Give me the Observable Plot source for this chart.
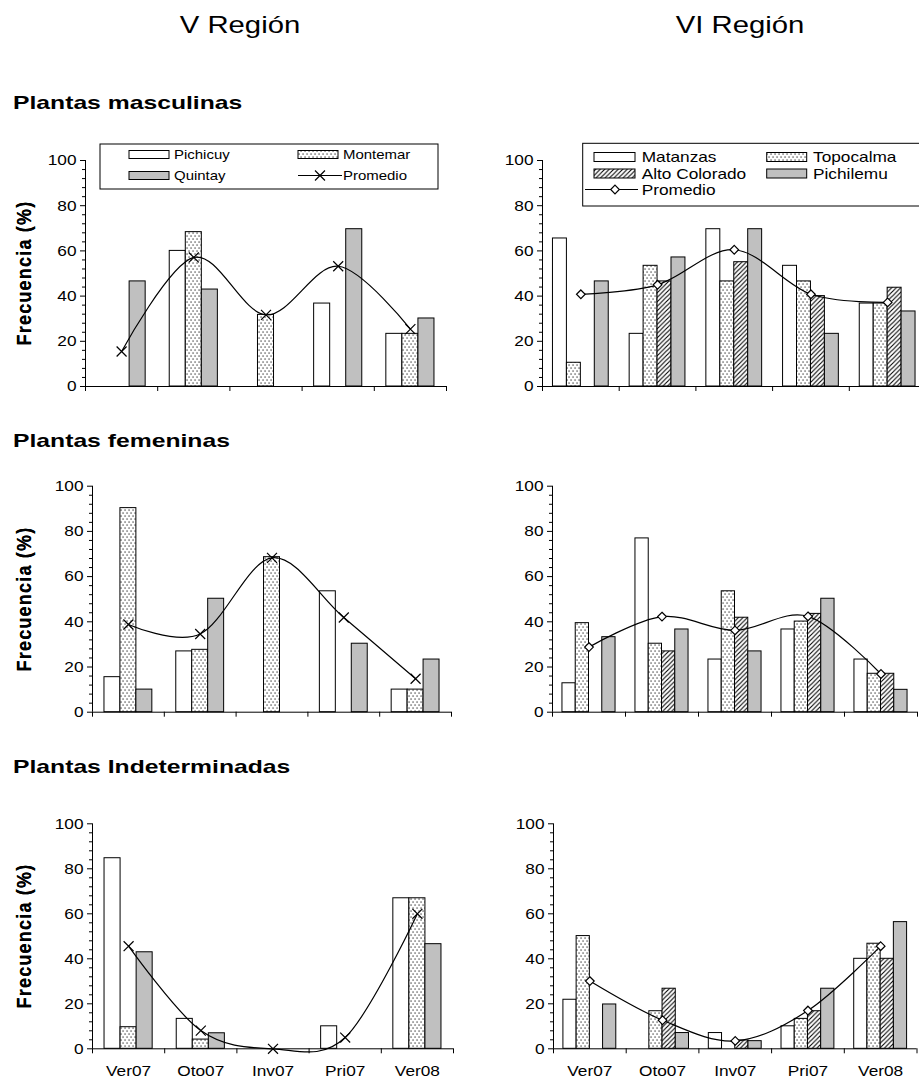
<!DOCTYPE html>
<html><head><meta charset="utf-8">
<script src="https://cdn.jsdelivr.net/npm/d3@7"></script>
<script src="https://cdn.jsdelivr.net/npm/@observablehq/plot@0.6"></script>
<style>
html,body{margin:0;padding:0;width:919px;height:1082px;overflow:hidden;background:#fff;font-family:"Liberation Sans",Arial,sans-serif;color:#000;}
#page{position:relative;width:919px;height:1082px;overflow:hidden;}
.abs{position:absolute;white-space:nowrap;line-height:1;}
.title{font-size:24px;transform:translate(-50%,-50%) scaleX(1.22);}
.rowt{font-size:19px;font-weight:bold;transform-origin:left center;transform:translateY(-50%) scaleX(1.3);}
.ylab{font-size:18px;font-weight:bold;letter-spacing:1.2px;transform:translate(-50%,-50%) rotate(-90deg) scaleY(1.15);}
.panel{position:absolute;}
</style></head><body>
<svg width="0" height="0" style="position:absolute">
  <defs>
    <pattern id="dots" patternUnits="userSpaceOnUse" width="4" height="6">
      <rect width="4" height="6" fill="white"/>
      <rect x="0.5" y="0.5" width="1.1" height="1.1" fill="black"/>
      <rect x="2.5" y="3.5" width="1.1" height="1.1" fill="black"/>
    </pattern>
    <pattern id="hatch" patternUnits="userSpaceOnUse" width="4.5" height="4.5">
      <rect width="4.5" height="4.5" fill="white"/>
      <path d="M0,4.5 L4.5,0 M-1,1 L1,-1 M3.5,5.5 L5.5,3.5" stroke="black" stroke-width="1.1"/>
    </pattern>
  </defs>
</svg>
<div id="page"></div>
<script>
// ---------- data ----------
const seasons = ["Ver07", "Oto07", "Inv07", "Pri07", "Ver08"];
const sitesV = ["Pichicuy", "Montemar", "Quintay"];
const sitesVI = ["Matanzas", "Topocalma", "Alto Colorado", "Pichilemu"];
const yTicks = [0, 20, 40, 60, 80, 100];
const regionTitles = ["V Región", "VI Región"];
const rowTitles = ["Plantas masculinas", "Plantas femeninas", "Plantas Indeterminadas"];
const yLabel = "Frecuencia (%)";
const promedioLabel = "Promedio";

// Plantas masculinas – V Región
const mascV_Pichicuy = [0, 60, null, 36.7, 23.3];
const mascV_Montemar = [0, 68.3, 31.7, null, 23.3];
const mascV_Quintay = [46.5, 42.9, null, 69.6, 30.1];
const mascV_Promedio = [15.5, 57.1, 31.7, 53.2, 25.4];
// Plantas masculinas – VI Región
const mascVI_Matanzas = [65.5, 23.3, 69.6, 53.4, 36.7];
const mascVI_Topocalma = [10.5, 53.4, 46.5, 46.5, 36.7];
const mascVI_AltoColorado = [null, 46.5, 55, 40, 43.7];
const mascVI_Pichilemu = [46.5, 57.1, 69.6, 23.3, 33.2];
const mascVI_Promedio = [40.8, 45, 60.5, 40.8, 37.2];
// Plantas femeninas – V Región
const femV_Pichicuy = [15.5, 26.9, null, 53.5, 10];
const femV_Montemar = [90.3, 27.6, 68.6, null, 10];
const femV_Quintay = [10, 50.2, null, 30.3, 23.3];
const femV_Promedio = [38.8, 34.6, 68.3, 41.9, 14.8];
// Plantas femeninas – VI Región
const femVI_Matanzas = [12.8, 76.9, 23.3, 36.6, 23.3];
const femVI_Topocalma = [39.4, 30.3, 53.5, 40.1, 17];
const femVI_AltoColorado = [null, 26.9, 41.8, 43.5, 17];
const femVI_Pichilemu = [33.2, 36.6, 26.9, 50.2, 9.9];
const femVI_Promedio = [28.8, 42.3, 36.2, 42.4, 16.9];
// Plantas indeterminadas – V Región
const indV_Pichicuy = [84.7, 13.3, 0, 10, 66.9];
const indV_Montemar = [9.6, 4.1, 0, null, 66.9];
const indV_Quintay = [42.9, 6.9, 0, 0, 46.5];
const indV_Promedio = [45.6, 8.1, 0, 5, 60];
// Plantas indeterminadas – VI Región
const indVI_Matanzas = [21.8, 0, 7, 10, 40];
const indVI_Topocalma = [50.1, 16.7, 0, 13.3, 46.7];
const indVI_AltoColorado = [null, 26.7, 3.7, 16.7, 40];
const indVI_Pichilemu = [19.7, 7, 3.4, 26.7, 56.3];
const indVI_Promedio = [30.1, 12.7, 3.5, 17, 45.6];

// ---------- styles ----------
const siteFill = {
  "Pichicuy": "white", "Montemar": "url(#dots)", "Quintay": "#c0c0c0",
  "Matanzas": "white", "Topocalma": "url(#dots)", "Alto Colorado": "url(#hatch)", "Pichilemu": "#c0c0c0"
};
const FONT = "'Liberation Sans', Arial, sans-serif";
const TEXT_STRETCH = 1.15;

const page = document.getElementById("page");
function addDiv(cls, text, left, top) {
  const d = document.createElement("div");
  d.className = "abs " + cls;
  d.textContent = text;
  d.style.left = left + "px";
  d.style.top = top + "px";
  page.appendChild(d);
  return d;
}
addDiv("title", regionTitles[0], 240, 25);
addDiv("title", regionTitles[1], 740, 25);
addDiv("rowt", rowTitles[0], 13, 102);
addDiv("rowt", rowTitles[1], 13, 440);
addDiv("rowt", rowTitles[2], 13, 766);

// ---------- panels ----------
const panels = [
  {sites: sitesV, series: [mascV_Pichicuy, mascV_Montemar, mascV_Quintay], prom: mascV_Promedio, symbol: "times",
   box: {left: 0, top: 130, width: 460, height: 280}, frame: {x0: 85, x1: 446, y100: 160, y0: 386}, labels: false},
  {sites: sitesVI, series: [mascVI_Matanzas, mascVI_Topocalma, mascVI_AltoColorado, mascVI_Pichilemu], prom: mascVI_Promedio, symbol: "diamond2",
   box: {left: 460, top: 130, width: 480, height: 280}, frame: {x0: 542, x1: 925.5, y100: 160, y0: 386}, labels: false},
  {sites: sitesV, series: [femV_Pichicuy, femV_Montemar, femV_Quintay], prom: femV_Promedio, symbol: "times",
   box: {left: 0, top: 455, width: 460, height: 280}, frame: {x0: 92, x1: 451, y100: 485.7, y0: 711.7}, labels: false},
  {sites: sitesVI, series: [femVI_Matanzas, femVI_Topocalma, femVI_AltoColorado, femVI_Pichilemu], prom: femVI_Promedio, symbol: "diamond2",
   box: {left: 460, top: 455, width: 480, height: 280}, frame: {x0: 552, x1: 917, y100: 485.7, y0: 711.7}, labels: false},
  {sites: sitesV, series: [indV_Pichicuy, indV_Montemar, indV_Quintay], prom: indV_Promedio, symbol: "times",
   box: {left: 0, top: 793, width: 460, height: 289}, frame: {x0: 92, x1: 453, y100: 823.3, y0: 1048.3}, labels: true},
  {sites: sitesVI, series: [indVI_Matanzas, indVI_Topocalma, indVI_AltoColorado, indVI_Pichilemu], prom: indVI_Promedio, symbol: "diamond2",
   box: {left: 460, top: 793, width: 480, height: 289}, frame: {x0: 553, x1: 916.5, y100: 823.3, y0: 1048.3}, labels: true}
];

const minorTicks = d3.range(0, 101, 4).filter(v => v % 20 !== 0);

function makePanel(p) {
  const n = p.sites.length;
  const w = 1 / (n + 1.5);   // Excel gap width 150 %
  const pad = 0.75 * w;
  const markList = [];
  p.sites.forEach((site, i) => {
    const rows = [];
    p.series[i].forEach((v, s) => {
      if (v != null) rows.push({season: seasons[s], v, x1: s + pad + i * w, x2: s + pad + (i + 1) * w});
    });
    markList.push(Plot.rect(rows, {x1: "x1", x2: "x2", y1: 0, y2: "v", fill: siteFill[site], stroke: "black", strokeWidth: 1}));
  });
  const prom = p.prom.map((v, s) => ({x: s + 0.5, v}));
  const symbolR = p.symbol === "times" ? 4.6 : 3.9;
  const b = p.box, f = p.frame;
  const marks = [
    ...markList,
    Plot.line(prom, {x: "x", y: "v", curve: "cardinal", stroke: "black", strokeWidth: 1.2}),
    Plot.dot(prom, {x: "x", y: "v", symbol: p.symbol, r: symbolR, stroke: "black", strokeWidth: 1.2, fill: p.symbol === "times" ? "none" : "white"}),
    Plot.ruleX([0], {y1: 0, y2: 100, stroke: "black"}),
    Plot.ruleY([0], {x1: 0, x2: 5, stroke: "black"}),
    Plot.axisY({ticks: yTicks, tickSize: 5, tickPadding: 4, fontSize: 15, label: null, stroke: "black"}),
    Plot.axisY({ticks: minorTicks, tickSize: 3, tickFormat: () => "", label: null, stroke: "black"}),
    Plot.axisX({ticks: [0, 1, 2, 3, 4, 5], tickSize: 5, tickFormat: () => "", label: null, stroke: "black"})
  ];
  if (p.labels) {
    marks.push(Plot.axisX({ticks: seasons.map((_, s) => s + 0.5), tickSize: 0, tickPadding: 17, fontSize: 15,
      tickFormat: d => seasons[Math.floor(d)], label: null}));
  }
  const chart = Plot.plot({
    width: b.width, height: b.height,
    marginLeft: f.x0 - b.left, marginRight: b.left + b.width - f.x1,
    marginTop: f.y100 - b.top, marginBottom: b.top + b.height - f.y0,
    x: {domain: [0, 5], axis: null},
    y: {domain: [0, 100], axis: null},
    style: {fontFamily: FONT, fontSize: "15px", color: "black", background: "transparent", overflow: "visible"},
    marks
  });
  chart.classList.add("panel");
  chart.style.left = b.left + "px";
  chart.style.top = b.top + "px";
  page.appendChild(chart);
  addDiv("ylab", yLabel, 24, (f.y100 + f.y0) / 2);
  return chart;
}

const charts = panels.map(makePanel);

// ---------- legends ----------
function legend(svg, box, cfg) {
  const g = d3.select(svg).append("g").attr("transform", `translate(${-box.left},${-box.top})`)
    .attr("text-anchor", "start");
  g.append("rect").attr("x", cfg.frame[0]).attr("y", cfg.frame[1]).attr("width", cfg.frame[2]).attr("height", cfg.frame[3])
    .attr("fill", "white").attr("stroke", "black").attr("stroke-width", 1);
  cfg.items.forEach(it => {
    if (it.kind === "bar") {
      g.append("rect").attr("x", it.x).attr("y", it.y - it.h / 2).attr("width", it.w).attr("height", it.h)
        .attr("fill", siteFill[it.label]).attr("stroke", "black").attr("stroke-width", 1);
    } else {
      g.append("line").attr("x1", it.x).attr("x2", it.x + it.w).attr("y1", it.y).attr("y2", it.y).attr("stroke", "black").attr("stroke-width", 1.2);
      const sym = it.symbol === "times" ? d3.symbolTimes : d3.symbolDiamond2;
      const r = it.symbol === "times" ? 4.6 : 3.9;
      g.append("path").attr("d", d3.symbol(sym, r * r * Math.PI)()).attr("transform", `translate(${it.mx},${it.y})`)
        .attr("fill", it.symbol === "times" ? "none" : "white").attr("stroke", "black").attr("stroke-width", 1.2);
    }
    g.append("text").attr("x", it.tx).attr("y", it.y).attr("dy", "0.36em").attr("font-size", cfg.fontSize)
      .attr("text-anchor", "start").attr("font-family", FONT).attr("fill", "black").text(it.label);
  });
}
legend(charts[0], panels[0].box, {
  frame: [100, 144, 338, 45], fontSize: 13,
  items: [
    {kind: "bar", label: sitesV[0], x: 129, y: 154.5, w: 40, h: 8, tx: 174},
    {kind: "bar", label: sitesV[1], x: 298, y: 154.5, w: 40, h: 8, tx: 343},
    {kind: "bar", label: sitesV[2], x: 129, y: 175.5, w: 40, h: 8, tx: 174},
    {kind: "line", label: promedioLabel, symbol: "times", x: 298, w: 44, mx: 320, y: 175.5, tx: 343}
  ]
});
legend(charts[1], panels[1].box, {
  frame: [582.7, 143.3, 400, 62.7], fontSize: 15,
  items: [
    {kind: "bar", label: sitesVI[0], x: 594, y: 157, w: 41, h: 9, tx: 641.7},
    {kind: "bar", label: sitesVI[1], x: 766.7, y: 157, w: 40, h: 9, tx: 813},
    {kind: "bar", label: sitesVI[2], x: 594, y: 173.5, w: 41, h: 9, tx: 641.7},
    {kind: "bar", label: sitesVI[3], x: 766.7, y: 173.5, w: 40, h: 9, tx: 813},
    {kind: "line", label: promedioLabel, symbol: "diamond2", x: 585, w: 53, mx: 615, y: 189.5, tx: 641.7}
  ]
});

// ---------- horizontal text stretch (reference text is wide) ----------
charts.forEach(svg => {
  svg.querySelectorAll("text").forEach(t => {
    const L = t.getComputedTextLength();
    if (L > 0) {
      t.setAttribute("textLength", (L * TEXT_STRETCH).toFixed(2));
      t.setAttribute("lengthAdjust", "spacingAndGlyphs");
    }
  });
});
</script>
</body></html>
